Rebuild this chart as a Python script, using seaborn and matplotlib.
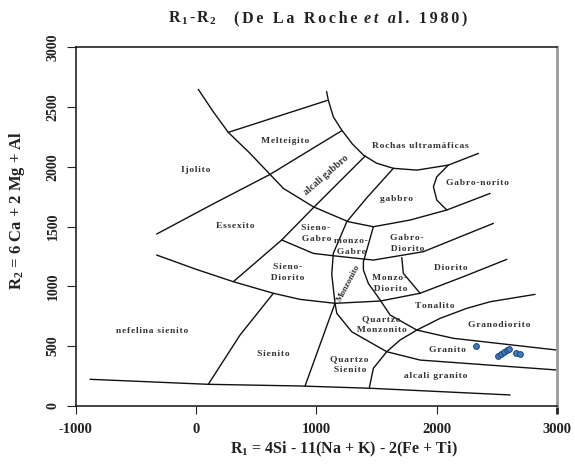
import matplotlib
matplotlib.use("Agg")
import matplotlib.pyplot as plt
import seaborn as sns
import pandas as pd

# ---------------- data ----------------
# sample points (R1, R2)
sample_r1 = [2327, 2510, 2535, 2560, 2585, 2600, 2660, 2690]
sample_r2 = [502, 420, 435, 452, 468, 476, 445, 432]

# classification boundaries (R1, R2)
b_melteigito_top = [(268, 2288), (1090, 2555)]
b_outer_arc = [(19, 2648), (140, 2465), (268, 2288), (449, 2112), (615, 1936), (726, 1819),
               (975, 1665), (1266, 1540), (1474, 1498), (1779, 1554), (2084, 1638), (2444, 1777)]
b_ultramafic = [(1085, 2630), (1100, 2555), (1141, 2418), (1211, 2307), (1300, 2190), (1391, 2098),
                (1500, 2030), (1640, 1987), (1835, 1972), (2097, 2014), (2347, 2112)]
b_gabronorito = [(2097, 2014), (2001, 1916), (1973, 1833), (2001, 1721), (2084, 1638)]
b_ijolito = [(-327, 1437), (144, 1690), (615, 1936), (1211, 2302)]
b_alcaligabbro = [(310, 1038), (712, 1387), (975, 1657), (1405, 2089)]
b_lower_arc = [(-327, 1261), (0, 1142), (310, 1038), (643, 941), (865, 890), (1155, 857),
               (1530, 876), (1862, 941), (2222, 1080), (2583, 1225)]
b_gabrodiorito = [(712, 1387), (975, 1275), (1141, 1255), (1474, 1219), (1889, 1289), (2471, 1526)]
b_monzonito_left = [(1640, 1987), (1419, 1740), (1253, 1540), (1141, 1275), (1128, 1100), (1155, 857),
                    (1170, 773), (1294, 619), (1585, 452), (1862, 382), (2998, 299)]
b_monzonito_right = [(1474, 1498), (1419, 1303), (1391, 1205), (1391, 1136), (1432, 1024), (1530, 885),
                     (1613, 759), (1835, 633), (2139, 564), (2998, 466)]
b_monzodiorito = [(1710, 1240), (1723, 1108), (1862, 941)]
b_quartzosienito = [(1155, 857), (906, 165)]
b_sienito = [(643, 941), (366, 592), (102, 179)]
b_bottom = [(-881, 221), (102, 179), (865, 165), (1446, 146), (2610, 90)]
b_granodiorito = [(1441, 154), (1474, 313), (1585, 452), (1696, 550), (1835, 633), (2028, 731),
                  (2250, 815), (2444, 870), (2818, 932)]

boundaries = [b_melteigito_top, b_outer_arc, b_ultramafic, b_gabronorito, b_ijolito, b_alcaligabbro,
              b_lower_arc, b_gabrodiorito, b_monzonito_left, b_monzonito_right, b_monzodiorito,
              b_quartzosienito, b_sienito, b_bottom, b_granodiorito]

# field names
label_text = ["Melteigito", "Ijolito", "Essexito", "Sieno-\nGabro", "Rochas ultramáficas",
              "Gabro-norito", "gabbro", "Gabro-\nDiorito", "Diorito", "Monzo-\nDiorito",
              "Tonalito", "Quartzo\nMonzonito", "Granodiorito", "Granito", "Quartzo\nSienito",
              "alcali granito", "Sienito", "nefelina sienito", "Sieno-\nDiorito", "monzo-\nGabro"]
label_x = [737, 0, 330, 1000, 1862, 2336, 1668, 1751, 2117, 1613, 1987, 1544, 2516, 2087, 1280,
           1995, 640, -364, 760, 1290]
label_y = [2215, 1972, 1504, 1443, 2176, 1866, 1730, 1359, 1150, 1021, 834, 681, 675, 466, 343,
           249, 433, 625, 1113, 1334]

xticks = [-1000, 0, 1000, 2000, 3000]
yticks = [0, 500, 1000, 1500, 2000, 2500, 3000]

title_parts = [r"$\mathrm{R}_{\,\mathrm{1}}\,$-$\,\mathrm{R}_{\,\mathrm{2}}$", "(De La Roche", "et a", "l. 1980)"]

# ---------------- drawing ----------------
sns.set_theme(style="white")
plt.rcParams["font.family"] = ["Liberation Serif", "DejaVu Serif"]
plt.rcParams["font.weight"] = "bold"
plt.rcParams["mathtext.fontset"] = "custom"
plt.rcParams["mathtext.rm"] = "Liberation Serif:bold"
plt.rcParams["mathtext.bf"] = "Liberation Serif:bold"
plt.rcParams["mathtext.it"] = "Liberation Serif:italic:bold"

fig = plt.figure(figsize=(5.75, 4.66), dpi=100)
ax = fig.add_axes([75.7 / 575, 1 - 405.7 / 466, (557 - 75.7) / 575, (405.7 - 47.3) / 466])

for b in boundaries:
    df = pd.DataFrame(b, columns=["R1", "R2"])
    ax.plot(df["R1"], df["R2"], color="#111111", lw=1.0, solid_joinstyle="round")

pts = pd.DataFrame({"R1": sample_r1, "R2": sample_r2})
sns.scatterplot(data=pts, x="R1", y="R2", ax=ax, color="#3a7fc8", edgecolor="#1d3f6e",
                s=17, linewidth=0.7, zorder=5, legend=False)


def spaced(s, sep="\u200a"):
    return sep.join(s)


FAM = ["Liberation Serif", "DejaVu Serif"]

for t, x, y in zip(label_text, label_x, label_y):
    ax.text(x, y, spaced(t), ha="center", va="center", fontsize=6.8, fontweight="bold",
            color="#333333", linespacing=1.5, family=FAM)

ax.text(1086, 1931, "alcali gabbro", rotation=41, ha="center", va="center", fontsize=7.2,
        fontweight="bold", color="#333333", family=["Liberation Serif"])
ax.text(1272, 1030, "Monzonito", rotation=62, ha="center", va="center", fontsize=6.4,
        fontweight="bold", color="#333333", family=["Liberation Serif"])

ax.set_xlim(-1000, 3000)
ax.set_ylim(0, 3000)
ax.set_xticks(xticks)
ax.set_yticks(yticks)
ax.set_xticklabels([str(v) for v in xticks], fontsize=10.5, fontweight="bold")
ax.set_yticklabels([str(v) for v in yticks], fontsize=10, fontweight="bold", rotation=90,
                   va="center")
ax.tick_params(axis="x", direction="out", length=5.5, width=0.8, color="#222222", pad=7,
               bottom=True, labelcolor="#222222")
ax.tick_params(axis="y", direction="out", length=6.5, width=0.8, color="#222222", pad=5,
               left=True, labelcolor="#222222")
ax.set_xlabel("")
ax.set_ylabel("")

for side in ["top", "left", "bottom"]:
    ax.spines[side].set_color("#111111")
    ax.spines[side].set_linewidth(1.1)
ax.spines["right"].set_color("#9a9a9a")
ax.spines["right"].set_linewidth(2.0)
last = ax.xaxis.get_major_ticks()[-1]
last.tick1line.set_color("#9a9a9a")
last.tick1line.set_markeredgewidth(2.0)

# title, laid out piece by piece (math subscripts + letter-spaced text)
renderer = fig.canvas.get_renderer()
ty = 1 - 22.7 / 466
tkw = dict(ha="left", va="baseline", fontsize=11.5, fontweight="bold", color="#222222")
xpos = 168.0
gaps = [17, 7, 2, 0]
styles = ["normal", "normal", "italic", "normal"]
for i, (part, gap, sty) in enumerate(zip(title_parts, gaps, styles)):
    txt = part if i == 0 else spaced(part, "\u200a\u200a")
    t = fig.text(xpos / 575, ty, txt, family=FAM, style=sty, **tkw)
    bb = t.get_window_extent(renderer)
    xpos = bb.x1 + gap

fig.text(344 / 575, 1 - 449 / 466,
         r"$\mathrm{R_1}$ = 4Si - 11(Na + K) - 2(Fe + Ti)",
         ha="center", va="center", fontsize=11.5, fontweight="bold", color="#222222")
fig.text(17 / 575, 1 - 210 / 466,
         r"$\mathrm{R_2}$ = 6 Ca + 2 Mg + Al",
         ha="center", va="center", rotation=90, fontsize=12, fontweight="bold", color="#222222")

fig.savefig("out.png", dpi=100, facecolor="white")
